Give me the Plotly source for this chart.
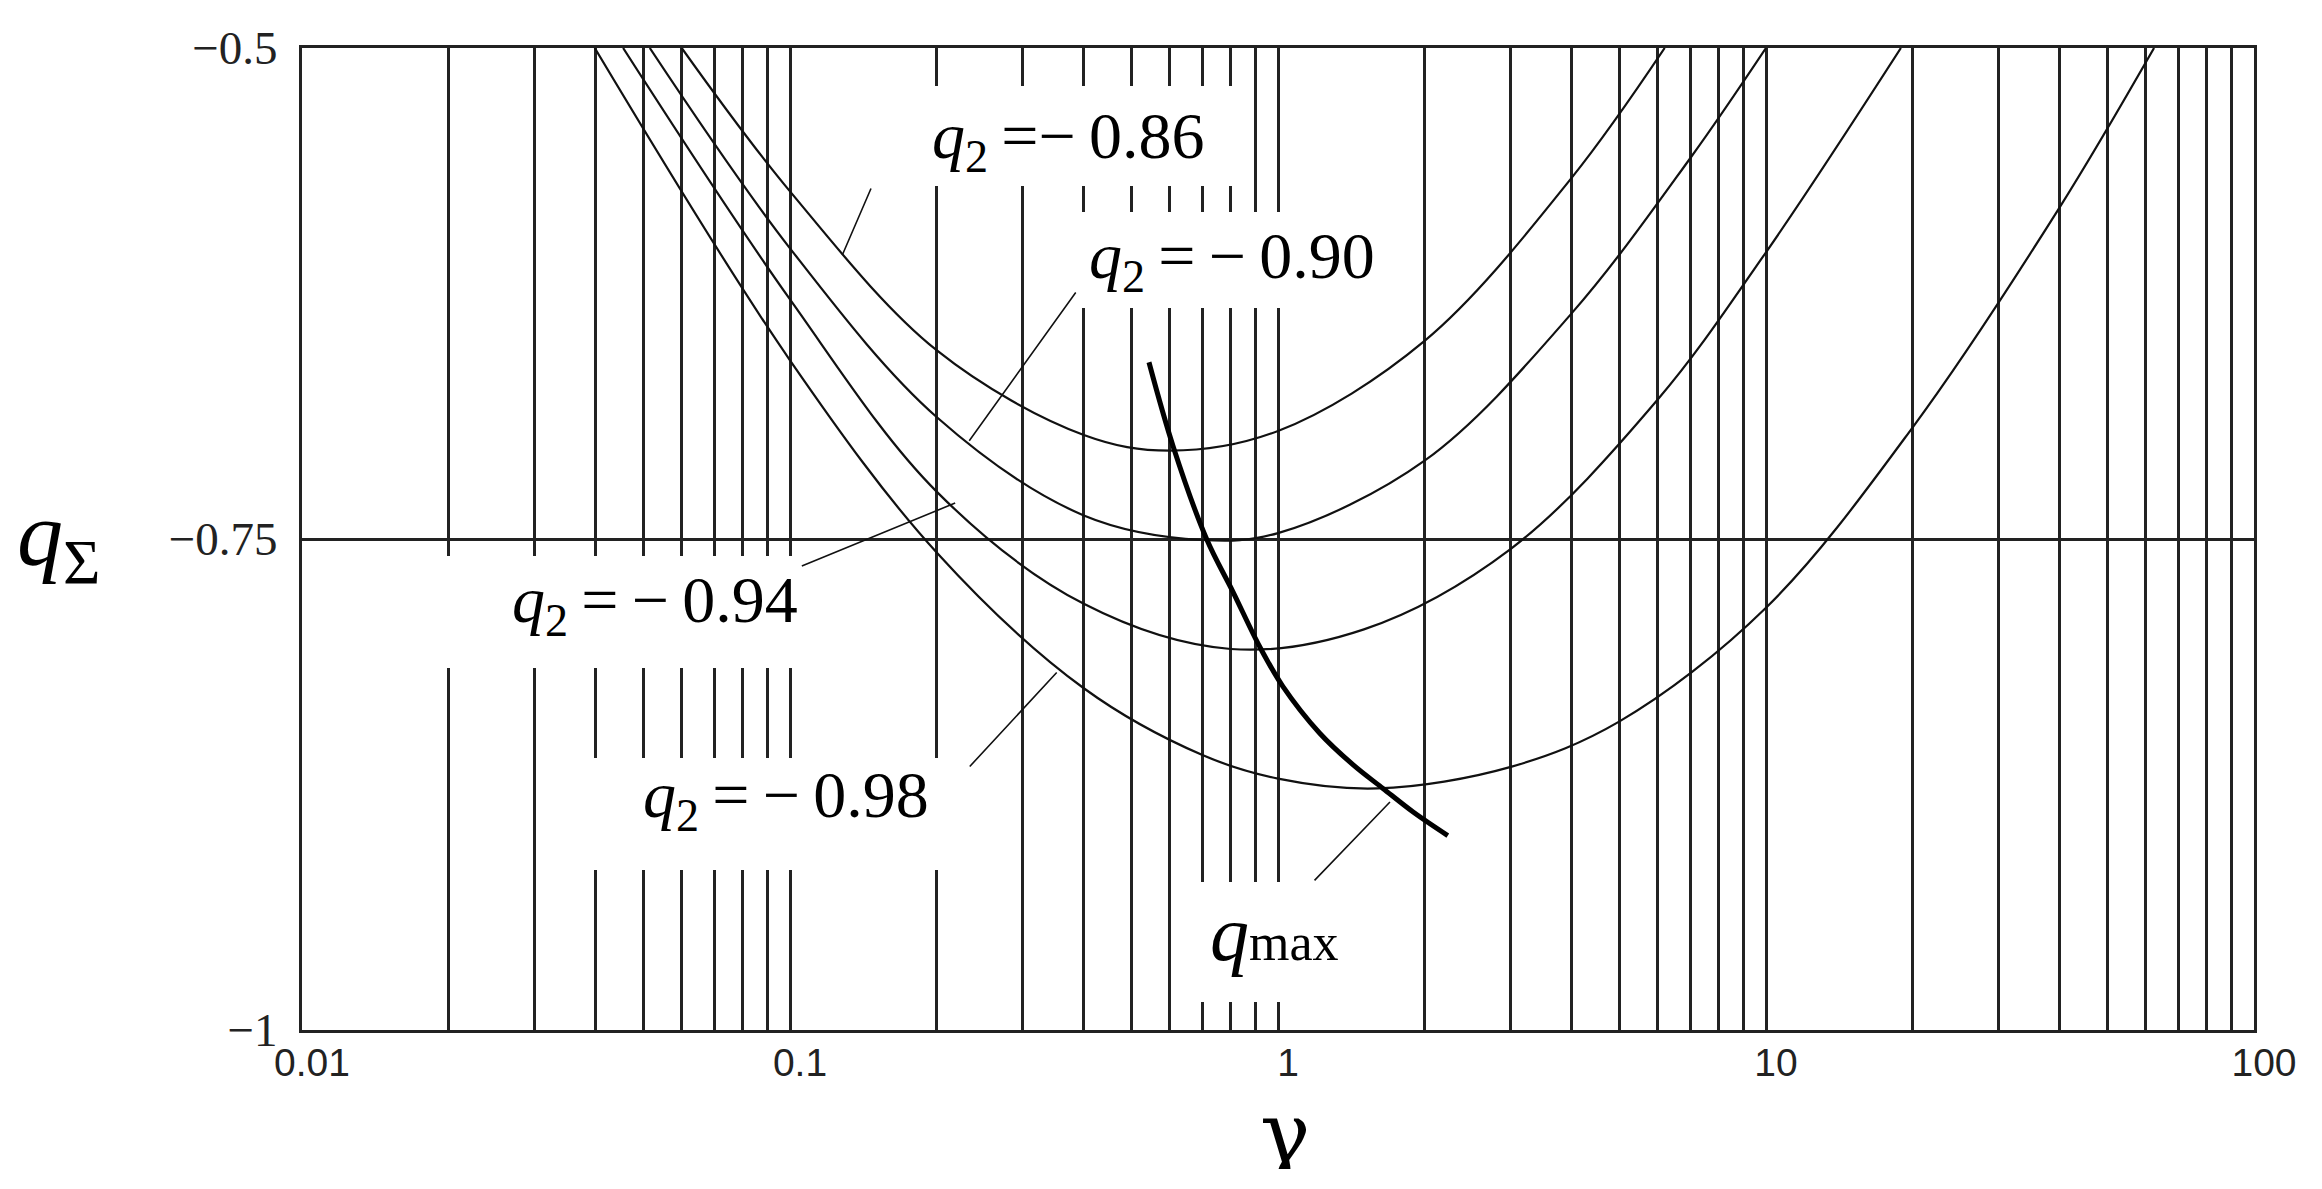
import numpy as np
import plotly.graph_objects as go

# ---------------- data ----------------
gamma_086 = [0.060, 0.10, 0.20, 0.40, 0.60, 1.0, 2.0, 4.0, 6.2]
q_086 = [-0.500, -0.573, -0.654, -0.697, -0.705, -0.695, -0.649, -0.566, -0.500]

gamma_090 = [0.0516, 0.10, 0.20, 0.40, 0.70, 1.0, 2.0, 4.0, 7.0, 10.0]
q_090 = [-0.500, -0.602, -0.688, -0.738, -0.7505, -0.747, -0.710, -0.635, -0.556, -0.500]

gamma_094 = [0.0455, 0.10, 0.20, 0.40, 0.80, 1.5, 3.0, 6.0, 10.0, 18.9]
q_094 = [-0.500, -0.628, -0.726, -0.783, -0.806, -0.796, -0.755, -0.679, -0.604, -0.500]

gamma_098 = [0.0398, 0.10, 0.20, 0.40, 0.70, 1.0, 1.6, 3.0, 5.0, 10.0, 20.0, 40.0, 62.4]
q_098 = [-0.500, -0.659, -0.757, -0.826, -0.860, -0.872, -0.877, -0.866, -0.843, -0.785, -0.693, -0.581, -0.500]

gamma_qmax = [0.544, 0.610, 0.714, 0.809, 0.918, 1.023, 1.219, 1.426, 1.641, 1.892, 2.228]
q_qmax = [-0.660, -0.703, -0.750, -0.777, -0.805, -0.825, -0.849, -0.865, -0.877, -0.889, -0.901]

curve_labels = ["<i>q</i><sub>2</sub>\u2009=\u2212\u20090.86", "<i>q</i><sub>2</sub>\u2009=\u2009\u2212\u20090.90",
                "<i>q</i><sub>2</sub>\u2009=\u2009\u2212\u20090.94", "<i>q</i><sub>2</sub>\u2009=\u2009\u2212\u20090.98"]

# leader lines: label end (gamma, q) -> curve point (gamma, q)
leader_from_gamma = [0.147, 0.387, 0.105, 0.232, 1.18]
leader_from_q = [-0.5708, -0.6237, -0.764, -0.8666, -0.9246]
leader_to_gamma = [0.128, 0.233, 0.218, 0.352, 1.696]
leader_to_q = [-0.6054, -0.700, -0.7317, -0.818, -0.8839]

x_decades = [0.01, 0.1, 1, 10, 100]
x_tick_text = ["0.01", "0.1", "1", "10", "100"]
y_ticks = [-1, -0.75, -0.5]
y_tick_text = ["\u22121", "\u22120.75", "\u22120.5"]

# ---------------- layout geometry (page pixels) ----------------
PAGE_W, PAGE_H = 2322, 1189
BODY = 8                      # default body margin of the html page
W, H = PAGE_W - 2 * BODY, PAGE_H - 2 * BODY
L, R, T, B = 302, 2254, 48, 1030   # plot area in page pixels


def pxx(xp):
    return (xp - L) / (R - L)


def pxy(yp):
    return (B - yp) / (B - T)


grid_x = []
for d in x_decades[:-1]:
    for m in range(1, 10):
        grid_x.append(round(d * m, 6))
grid_x.append(x_decades[-1])
grid_text = [x_tick_text[x_decades.index(v)] if v in x_decades else "" for v in grid_x]

fig = go.Figure()
for g, q in [(gamma_086, q_086), (gamma_090, q_090), (gamma_094, q_094), (gamma_098, q_098)]:
    fig.add_trace(go.Scatter(x=g, y=q, mode="lines",
                             line=dict(color="#111", width=2.2, shape="spline", smoothing=1.0),
                             hoverinfo="skip", showlegend=False))
fig.add_trace(go.Scatter(x=gamma_qmax, y=q_qmax, mode="lines",
                         line=dict(color="black", width=5, shape="spline", smoothing=1.0),
                         hoverinfo="skip", showlegend=False))

# white boxes behind labels (page pixel boxes)
boxes = [(905, 86, 1245, 186), (1050, 212, 1400, 308), (440, 556, 830, 668),
         (575, 758, 958, 870), (1185, 882, 1410, 1002)]
for x0, y0, x1, y1 in boxes:
    fig.add_shape(type="rect", xref="paper", yref="paper", x0=pxx(x0), x1=pxx(x1), y0=pxy(y1), y1=pxy(y0),
                  fillcolor="white", line=dict(width=0), layer="above")

label_font = dict(family="Liberation Serif, Times New Roman, serif", size=66, color="black")
label_pos = [(1068, 140), (1232, 260), (655, 604), (786, 799)]
for txt, (xp, yp) in zip(curve_labels, label_pos):
    fig.add_annotation(text=txt, xref="paper", yref="paper", x=pxx(xp), y=pxy(yp),
                       xanchor="center", yanchor="middle", showarrow=False, font=label_font)
fig.add_annotation(text="<span style='font-size:78px'><i>q</i></span>max", xref="paper", yref="paper",
                   x=pxx(1274), y=pxy(933), xanchor="center", yanchor="middle", showarrow=False,
                   font=dict(family="Liberation Serif, Times New Roman, serif", size=52, color="black"))

for gf, qf, gt, qt in zip(leader_from_gamma, leader_from_q, leader_to_gamma, leader_to_q):
    fig.add_annotation(text="", x=np.log10(gt), y=qt, xref="x", yref="y",
                       ax=np.log10(gf), ay=qf, axref="x", ayref="y",
                       showarrow=True, arrowhead=0, arrowwidth=1.6, arrowcolor="#111", standoff=0, startstandoff=0)

# axis titles
fig.add_annotation(text="<i>q</i><sub>\u03a3</sub>", xref="paper", yref="paper", x=pxx(58), y=pxy(540),
                   xanchor="center", yanchor="middle", showarrow=False,
                   font=dict(family="Liberation Serif, Times New Roman, serif", size=92, color="black"))
fig.add_annotation(text="\u03b3", xref="paper", yref="paper", x=pxx(1285), y=pxy(1133),
                   xanchor="center", yanchor="middle", showarrow=False, height=72,
                   font=dict(family="DejaVu Serif, Liberation Serif, serif", size=84, color="black"))

fig.update_layout(
    width=W, height=H, autosize=False,
    margin=dict(l=L - BODY, r=(PAGE_W - BODY) - R, t=T - BODY, b=(PAGE_H - BODY) - B),
    plot_bgcolor="white", paper_bgcolor="white",
    showlegend=False,
    xaxis=dict(type="log", range=[-2, 2], tickvals=grid_x, ticktext=grid_text,
               showgrid=True, gridcolor="#222", gridwidth=2.6, zeroline=False,
               showline=True, mirror=True, linecolor="#222", linewidth=3, ticks="",
               tickfont=dict(family="Liberation Sans, Arial, sans-serif", size=39, color="#222"),
               ticklabelstandoff=-4, ticklabelshift=10),
    yaxis=dict(range=[-1, -0.5], tickvals=y_ticks, ticktext=y_tick_text,
               showgrid=True, gridcolor="#222", gridwidth=2.6, zeroline=False,
               showline=True, mirror=True, linecolor="#222", linewidth=3, ticks="",
               tickfont=dict(family="Liberation Serif, Times New Roman, serif", size=47, color="#222"),
               ticklabelstandoff=12),
)

fig.write_html("out.html")
